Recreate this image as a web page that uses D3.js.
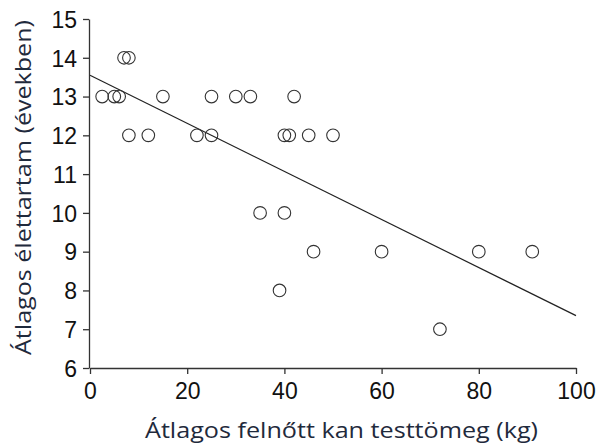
<!DOCTYPE html>
<html>
<head>
<meta charset="utf-8">
<script src="https://cdn.jsdelivr.net/npm/d3@7"></script>
<style>
  body { margin: 0; background: #fff; }
  svg { display: block; }
</style>
</head>
<body>
<svg id="chart" width="596" height="446"></svg>
<script>
// body mass (kg) and lifespan (years)
const massKg = [2.5, 5, 6, 15, 25, 30, 33, 42,
	7, 8,
	8, 12, 22, 25, 40, 41, 45, 50,
	35, 40,
	46, 60, 80, 91,
	39, 72];
const lifeYears = [13, 13, 13, 13, 13, 13, 13, 13,
	14, 14,
	12, 12, 12, 12, 12, 12, 12, 12,
	10, 10,
	9, 9, 9, 9,
	8, 7];
// fitted line end points
const fitX = [0, 100];
const fitY = [13.55, 7.35];

const xTicks = [0, 20, 40, 60, 80, 100];
const yTicks = [6, 7, 8, 9, 10, 11, 12, 13, 14, 15];

const xTitle = 'Átlagos felnőtt kan testtömeg (kg)';
const yTitle = 'Átlagos élettartam (években)';

let svg = d3.select('#chart');

let x = d3.scaleLinear().domain([0, 100]).range([90, 576]);
let y = d3.scaleLinear().domain([6, 15]).range([368, 19]);

//axes, R style: lines only from first to last tick
let xAxis = svg.append('g')
	.attr('transform', 'translate(0,368)')
	.call(d3.axisBottom(x).tickValues(xTicks).tickSize(6).tickSizeOuter(0).tickPadding(5));
let yAxis = svg.append('g')
	.attr('transform', 'translate(89,0)')
	.call(d3.axisLeft(y).tickValues(yTicks).tickSize(6).tickSizeOuter(0).tickPadding(6));

[xAxis, yAxis].forEach((g) => {
	g.attr('font-family', null).attr('font-size', null);
	g.select('.domain').attr('stroke', '#333').attr('stroke-width', 1.3);
	g.selectAll('.tick line').attr('stroke', '#333').attr('stroke-width', 1.3);
	g.selectAll('.tick text')
		.style('font-family', '"Liberation Sans", Arial, Helvetica, sans-serif')
		.style('font-size', '23px')
		.attr('fill', '#111');
});
yAxis.selectAll('.tick text').attr('dy', '0.36em');
xAxis.selectAll('.tick text').attr('dy', '0.88em');

//regression line
let line = d3.line()
	.x(function(d) { return x(d[0]); })
	.y(function(d) { return y(d[1]); });
svg.append('path')
	.attr('d', line(d3.zip(fitX, fitY)))
	.attr('fill', 'none')
	.attr('stroke', '#222')
	.attr('stroke-width', 1.2);

//points
svg.selectAll('circle.pt')
	.data(d3.zip(massKg, lifeYears))
	.enter()
	.append('circle')
	.attr('class', 'pt')
	.attr('cx', (d) => x(d[0]))
	.attr('cy', (d) => y(d[1]))
	.attr('r', 6.3)
	.attr('fill', 'none')
	.attr('stroke', '#333')
	.attr('stroke-width', 1.1);

//axis titles
svg.append('text')
	.attr('x', 145)
	.attr('y', 438)
	.attr('textLength', 393)
	.attr('lengthAdjust', 'spacingAndGlyphs')
	.style('font-family', '"Open Sans", Lato, sans-serif')
	.style('font-size', '22px')
	.attr('fill', '#1f2a3c')
	.text(xTitle);

svg.append('text')
	.attr('transform', 'translate(31,355) rotate(-90)')
	.attr('textLength', 335)
	.attr('lengthAdjust', 'spacingAndGlyphs')
	.style('font-family', '"Open Sans", Lato, sans-serif')
	.style('font-size', '22px')
	.attr('fill', '#1f2a3c')
	.text(yTitle);
</script>
</body>
</html>
